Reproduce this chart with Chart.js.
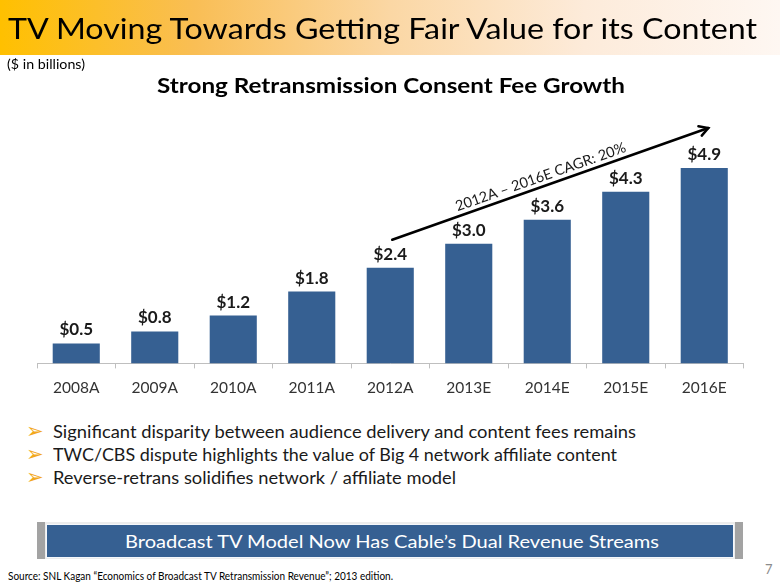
<!DOCTYPE html>
<html>
<head>
<meta charset="utf-8">
<script src="https://cdn.jsdelivr.net/npm/chart.js@4.4.1/dist/chart.umd.min.js"></script>
<style>
  html,body{margin:0;padding:0;background:#fff;}
  body{width:780px;height:585px;position:relative;overflow:hidden;font-family:Lato,"Open Sans",sans-serif;}
  .t{position:absolute;white-space:nowrap;line-height:1;display:inline-block;}
  #bar{position:absolute;left:0;top:0;width:780px;height:55px;
       background:linear-gradient(90deg,#FFC000 0%,#F9BE55 25%,#FBD7A4 50%,#FDEBDA 75%,#FEF7F2 100%);}
  #wrap{position:absolute;left:0;top:0;width:780px;height:410px;}
  .bul{color:#F2A81D;font-family:"DejaVu Sans",sans-serif;font-size:21px;}
  #banner{position:absolute;left:37px;top:522px;width:706px;height:37px;background:#ECECEC;}
  #bl{position:absolute;left:0;top:0;width:8px;height:37px;background:#A3A3A3;}
  #br{position:absolute;right:0;top:0;width:8px;height:37px;background:#A3A3A3;}
  #blue{position:absolute;left:9px;top:2px;width:686px;height:32px;background:#366092;border:1px solid #F4F7FB;}
</style>
</head>
<body>
<div id="bar"></div>
<div id="wrap"><canvas id="c"></canvas></div>

<span class="t" id="title" data-w="749" style="left:8px;top:14px;font-size:28px;color:#000;">TV Moving Towards Getting Fair Value for its Content</span>
<span class="t" data-w="78" style="left:7px;top:57px;font-size:14px;color:#000;">($ in billions)</span>
<span class="t" data-w="468" style="left:157px;top:74px;font-size:21px;font-weight:bold;color:#000;">Strong Retransmission Consent Fee Growth</span>

<span class="t bul" style="left:26px;top:421px;">➢</span>
<span class="t" data-w="583" style="left:53px;top:422px;font-size:18px;color:#1a1a1a;">Significant disparity between audience delivery and content fees remains</span>
<span class="t bul" style="left:26px;top:444px;">➢</span>
<span class="t" data-w="564" style="left:53px;top:445px;font-size:18px;color:#1a1a1a;">TWC/CBS dispute highlights the value of Big 4 network affiliate content</span>
<span class="t bul" style="left:26px;top:467px;">➢</span>
<span class="t" data-w="403" style="left:53px;top:468px;font-size:18px;color:#1a1a1a;">Reverse-retrans solidifies network / affiliate model</span>

<div id="banner"><div id="bl"></div><div id="br"></div><div id="blue"></div></div>
<span class="t" id="bt" data-w="534" style="left:125px;top:532px;font-size:18px;color:#fff;">Broadcast TV Model Now Has Cable’s Dual Revenue Streams</span>

<span class="t" data-w="385" style="left:8px;top:570px;font-size:11px;color:#000;">Source: SNL Kagan “Economics of Broadcast TV Retransmission Revenue”; 2013 edition.</span>
<span class="t" style="left:765px;top:563px;font-size:13px;color:#8C8C8C;">7</span>

<script>
// ---- data ----
const categories = ["2008A","2009A","2010A","2011A","2012A","2013E","2014E","2015E","2016E"];
const retransFees = [0.5, 0.8, 1.2, 1.8, 2.4, 3.0, 3.6, 4.3, 4.9];
const cagrLabel = "2012A \u2013 2016E CAGR: 20%";
const cagrFromIndex = 4, cagrToIndex = 8;

// fit text widths
function fit(){
  document.querySelectorAll('[data-w]').forEach(el=>{
    el.style.transform='none';
    const w = el.getBoundingClientRect().width;
    const s = parseFloat(el.dataset.w)/w;
    el.style.transformOrigin='left top';
    el.style.transform='scaleX('+s+')';
  });
}

const labelPlugin = {
  id:'labels',
  afterDatasetsDraw(chart){
    const ctx = chart.ctx;
    const meta = chart.getDatasetMeta(0);
    ctx.save();
    ctx.font = 'bold 17px Lato, "Open Sans", sans-serif';
    ctx.fillStyle = '#1a1a1a';
    ctx.textAlign = 'center';
    ctx.textBaseline = 'alphabetic';
    meta.data.forEach((bar,i)=>{
      ctx.fillText('$'+retransFees[i].toFixed(1), bar.x, bar.y - 8);
    });
    // CAGR arrow
    const xs = chart.scales.x, ys = chart.scales.y;
    const x0 = xs.getPixelForValue(cagrFromIndex) + 2;
    const y0 = ys.getPixelForValue(retransFees[cagrFromIndex] + 0.7);
    const x1 = xs.getPixelForValue(cagrToIndex) + 4;
    const y1 = ys.getPixelForValue(retransFees[cagrToIndex] + 1.0);
    const ang = Math.atan2(y1-y0, x1-x0);
    ctx.strokeStyle = '#000';
    ctx.lineWidth = 2.5;
    ctx.lineCap = 'round';
    ctx.beginPath(); ctx.moveTo(x0,y0); ctx.lineTo(x1,y1); ctx.stroke();
    ctx.beginPath();
    const L = 10, a = Math.PI/6;
    ctx.moveTo(x1 - L*Math.cos(ang-a), y1 - L*Math.sin(ang-a));
    ctx.lineTo(x1,y1);
    ctx.lineTo(x1 - L*Math.cos(ang+a), y1 - L*Math.sin(ang+a));
    ctx.stroke();
    // label
    const t = 0.48;
    const mx = x0 + (x1-x0)*t, my = y0 + (y1-y0)*t;
    ctx.translate(mx, my);
    ctx.rotate(ang);
    ctx.font = '14.5px Lato, "Open Sans", sans-serif';
    ctx.fillStyle = '#1a1a1a';
    ctx.textBaseline = 'alphabetic';
    ctx.fillText(cagrLabel, 0, -5);
    ctx.restore();
  }
};

Chart.defaults.font.family = 'Lato, "Open Sans", sans-serif';
new Chart(document.getElementById('c'), {
  type:'bar',
  data:{ labels:categories, datasets:[{ data:retransFees, backgroundColor:'#366092', borderWidth:0,
         categoryPercentage:1.0, barPercentage:0.6 }]},
  options:{
    responsive:true, maintainAspectRatio:false, animation:false,
    layout:{padding:{top:144,left:37,right:36.5,bottom:3}},
    plugins:{legend:{display:false}, tooltip:{enabled:false}},
    scales:{
      x:{ grid:{display:true, drawOnChartArea:false, drawTicks:true, tickLength:5, color:'#BFBFBF', offset:true},
          border:{display:true, color:'#BFBFBF', width:1},
          ticks:{color:'#333333', font:{size:15.5}, padding:10}},
      y:{ display:false, min:0, max:5.5 }
    }
  },
  plugins:[labelPlugin]
});

document.fonts.ready.then(fit);
fit();
</script>
</body>
</html>
